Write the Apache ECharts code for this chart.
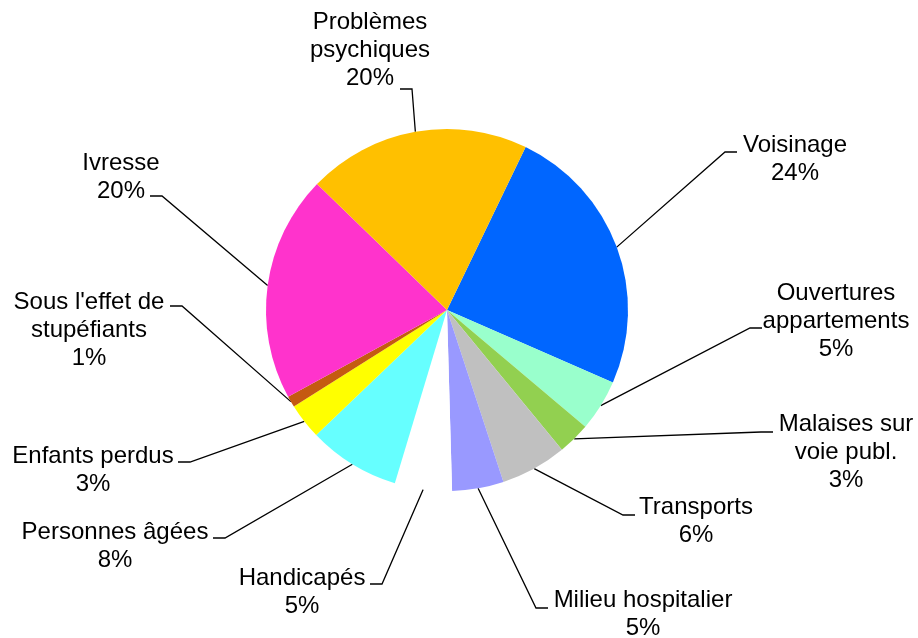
<!DOCTYPE html>
<html lang="fr">

<head>
    <meta charset="UTF-8">
    <title>Interventions</title>
    <script type="text/javascript" src="https://cdn.jsdelivr.net/npm/echarts@6/dist/echarts.min.js"></script>
    <style>
        html, body {
            margin: 0;
            padding: 0;
            background: #fff;
        }
        #chart {
            width: 918px;
            height: 638px;
        }
    </style>
</head>

<body>
    <div id="chart"></div>
</body>
<script>
    // catégories, dans le sens horaire à partir de "Voisinage"
    var categories = ['Voisinage', 'Ouvertures\nappartements', 'Malaises sur\nvoie publ.', 'Transports',
        'Milieu hospitalier', 'Handicapés', 'Personnes âgées', 'Enfants perdus',
        "Sous l'effet de\nstupéfiants", 'Ivresse', 'Problèmes\npsychiques'];
    var values = [24.4, 4.6, 2.9, 5.9, 4.6, 5.1, 8.2, 3.2, 1.0, 20.2, 19.9];
    var colors = ['#0066FF', '#99FFCC', '#92D050', '#C0C0C0', '#9999FF', '#FFFFFF',
        '#66FFFF', '#FFFF00', '#C55A11', '#FF33CC', '#FFC000'];

    // placement des étiquettes : centre du bloc de texte, puis bout du trait de rappel
    var labelCenter = [[795, 159], [836, 321], [846, 452], [696, 521], [643, 614], [302, 592],
        [115, 546], [93, 470], [89, 330], [121, 177], [370, 50]];
    var lineEnd = [[737, 152], [762, 328], [773, 432], [635, 515], [548, 608], [370, 584],
        [213, 538], [178, 462], [170, 306], [150, 196], [400, 89]];

    var pieCenter = [447, 310];

    var chart = echarts.init(document.getElementById('chart'));
    var option = {
        animation: false,
        series: [{
            type: 'pie',
            center: pieCenter,
            radius: 181,
            startAngle: 64.25,
            clockwise: true,
            avoidLabelOverlap: false,
            percentPrecision: 0,
            itemStyle: {
                borderWidth: 0
            },
            emphasis: { disabled: true },
            label: {
                show: true,
                position: 'outside',
                formatter: '{b}\n{d}%',
                color: '#000',
                fontFamily: '"Liberation Sans", Arial, sans-serif',
                fontSize: 24,
                lineHeight: 28
            },
            labelLine: {
                show: true,
                length: 10,
                length2: 10,
                lineStyle: { color: '#000', width: 1.3 }
            },
            labelLayout: function (params) {
                var i = params.dataIndex;
                var end = lineEnd[i];
                var start = params.labelLinePoints ? params.labelLinePoints[0] : end;
                var elbowX = end[0] < pieCenter[0] ? end[0] + 12 : end[0] - 12;
                return {
                    x: labelCenter[i][0],
                    y: labelCenter[i][1],
                    align: 'center',
                    verticalAlign: 'middle',
                    labelLinePoints: [start, [elbowX, end[1]], end]
                };
            },
            data: categories.map(function (name, i) {
                return { name: name, value: values[i], itemStyle: { color: colors[i] } };
            })
        }]
    };
    chart.setOption(option);
</script>

</html>
